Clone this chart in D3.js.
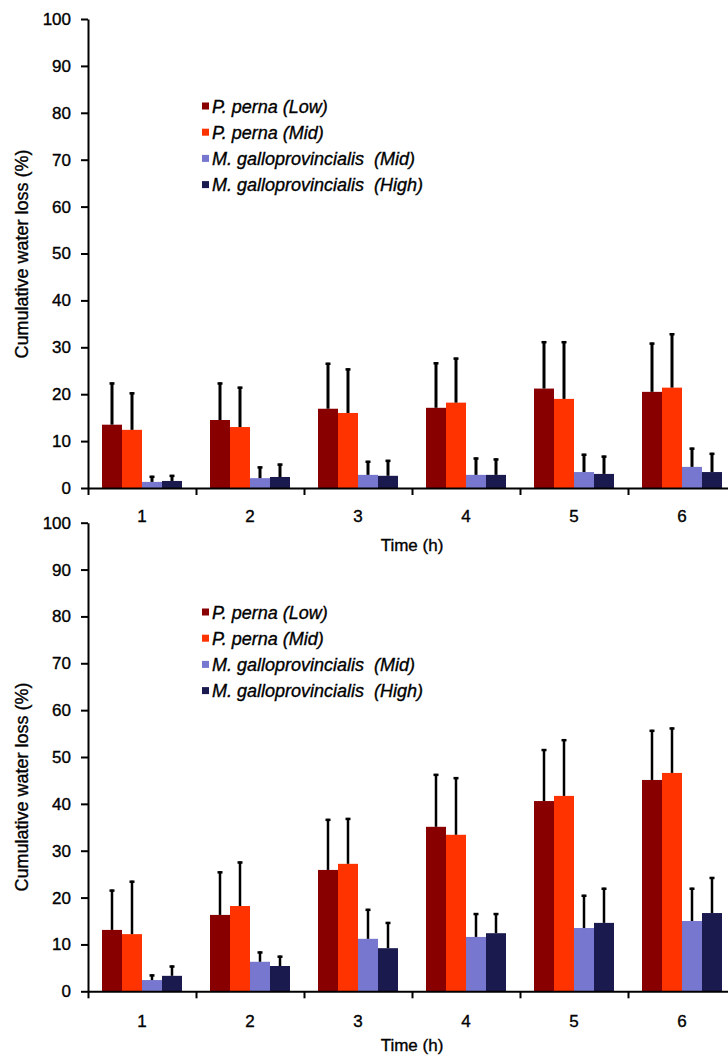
<!DOCTYPE html>
<html>
<head>
<meta charset="utf-8">
<script src="https://cdn.jsdelivr.net/npm/d3@7"></script>
<style>
  body { margin: 0; background: #fff; }
  svg { display: block; font-family: "Liberation Sans", Arial, sans-serif; }
  svg text { stroke: #000; stroke-width: 0.35px; fill: #000; }
  .axis path, .axis line { stroke: #000; stroke-width: 2px; }
  .axis text { font-size: 17px; }
</style>
</head>
<body>
<div id="chart"></div>
<script>
// categories and series
var times = ["1", "2", "3", "4", "5", "6"];
var seriesNames = ["P. perna (Low)", "P. perna (Mid)", "M. galloprovincialis  (Mid)", "M. galloprovincialis  (High)"];
var seriesColors = ["#880000", "#ff3300", "#7777d0", "#1a1a4e"];
var yTicks = [0, 10, 20, 30, 40, 50, 60, 70, 80, 90, 100];

// top panel: means and error (+SD)
var topPLow = [13.5, 14.5, 16.9, 17.1, 21.2, 20.5];
var topPLowErr = [9.0, 8.0, 9.8, 9.7, 10.1, 10.5];
var topPMid = [12.4, 13.0, 16.0, 18.2, 19.0, 21.4];
var topPMidErr = [8.0, 8.6, 9.5, 9.6, 12.3, 11.6];
var topMMid = [1.3, 2.1, 2.8, 2.8, 3.4, 4.5];
var topMMidErr = [1.3, 2.5, 3.0, 3.7, 3.9, 4.1];
var topMHigh = [1.5, 2.35, 2.6, 2.8, 3.0, 3.4];
var topMHighErr = [1.3, 2.85, 3.4, 3.5, 3.9, 4.1];

// bottom panel
var botPLow = [13.1, 16.3, 25.9, 35.1, 40.6, 45.1];
var botPLowErr = [8.6, 9.3, 10.9, 11.3, 11.1, 10.7];
var botPMid = [12.2, 18.2, 27.2, 33.4, 41.7, 46.6];
var botPMidErr = [11.4, 9.5, 9.8, 12.3, 12.1, 9.7];
var botMMid = [2.4, 6.3, 11.2, 11.6, 13.5, 15.0];
var botMMidErr = [1.2, 2.2, 6.4, 5.1, 7.1, 7.1];
var botMHigh = [3.3, 5.4, 9.2, 12.4, 14.6, 16.7];
var botMHighErr = [2.2, 2.2, 5.6, 4.3, 7.5, 7.7];

var W = 728, H = 1062;
var svg = d3.select("#chart").append("svg").attr("width", W).attr("height", H);

var x0 = 88, x1 = 736;
var x = d3.scaleBand().domain(times).range([x0, x1]).paddingInner(28 / 108).paddingOuter(14 / 108);
var xs = d3.scaleBand().domain(d3.range(seriesNames.length)).range([0, x.bandwidth()]);
var xEdge = d3.scaleLinear().domain([0, times.length]).range([x0, x1]);

function drawPanel(cfg) {
  var g = svg.append("g");
  var y = d3.scaleLinear().domain([0, 100]).range([cfg.bottom, cfg.top]);

  var rows = times.map(function(t, i) {
    return {t: t, vals: cfg.means.map(function(m, s) { return {s: s, v: m[i], e: cfg.errs[s][i]}; })};
  });

  var groups = g.selectAll(".grp").data(rows).enter().append("g")
    .attr("transform", function(d) { return "translate(" + x(d.t) + ",0)"; });

  groups.selectAll("rect").data(function(d) { return d.vals; }).enter().append("rect")
    .attr("x", function(d) { return xs(d.s); })
    .attr("width", xs.bandwidth())
    .attr("y", function(d) { return y(d.v); })
    .attr("height", function(d) { return y(0) - y(d.v); })
    .attr("fill", function(d) { return seriesColors[d.s]; });

  // error bars (upper only)
  var eb = groups.selectAll(".err").data(function(d) { return d.vals; }).enter().append("g").attr("class", "err");
  eb.append("line")
    .attr("x1", function(d) { return xs(d.s) + xs.bandwidth() / 2; })
    .attr("x2", function(d) { return xs(d.s) + xs.bandwidth() / 2; })
    .attr("y1", function(d) { return y(d.v); })
    .attr("y2", function(d) { return y(d.v + d.e); })
    .attr("stroke", "#000").attr("stroke-width", cfg.errW);
  eb.append("line")
    .attr("x1", function(d) { return xs(d.s) + xs.bandwidth() / 2 - 2.5; })
    .attr("x2", function(d) { return xs(d.s) + xs.bandwidth() / 2 + 2.5; })
    .attr("y1", function(d) { return y(d.v + d.e) + 1; })
    .attr("y2", function(d) { return y(d.v + d.e) + 1; })
    .attr("stroke", "#000").attr("stroke-width", 2.5);

  // y axis
  g.append("g").attr("class", "axis")
    .attr("transform", "translate(" + x0 + ",0)")
    .call(d3.axisLeft(y).tickValues(yTicks).tickSize(7).tickSizeOuter(0).tickPadding(10));

  // x axis: ticks at category edges, labels at centres
  g.append("g").attr("class", "axis")
    .attr("transform", "translate(0," + cfg.bottom + ")")
    .call(d3.axisBottom(xEdge).ticks(times.length).tickSize(7).tickSizeOuter(0).tickFormat(""));
  g.append("g").attr("class", "axis xlab")
    .attr("transform", "translate(0," + cfg.bottom + ")")
    .call(d3.axisBottom(x).tickSize(0).tickPadding(cfg.labPad))
    .call(function(a) { a.select(".domain").remove(); });

  g.append("text")
    .attr("x", (x0 + x1) / 2).attr("y", cfg.bottom + cfg.titleOff)
    .attr("text-anchor", "middle").attr("font-size", 17)
    .text("Time (h)");

  g.append("text")
    .attr("transform", "translate(28," + cfg.yTitleMid + ") rotate(-90)")
    .attr("text-anchor", "middle").attr("font-size", 18)
    .text("Cumulative water loss (%)");

  // legend
  var leg = g.selectAll(".leg").data(seriesNames).enter().append("g")
    .attr("transform", function(d, i) { return "translate(202," + (cfg.legTop + i * 26.2) + ")"; });
  leg.append("rect").attr("x", 0).attr("y", -3.5).attr("width", 7).attr("height", 7)
    .attr("fill", function(d, i) { return seriesColors[i]; });
  leg.append("text").attr("x", 10).attr("y", 6.5)
    .attr("font-size", 18).attr("font-style", "italic")
    .style("white-space", "pre")
    .text(function(d) { return d; });
}

drawPanel({
  top: 19, bottom: 488, errW: 3, labPad: 22, titleOff: 63, yTitleMid: 254, legTop: 106,
  means: [topPLow, topPMid, topMMid, topMHigh],
  errs: [topPLowErr, topPMidErr, topMMidErr, topMHighErr]
});
drawPanel({
  top: 522.7, bottom: 991.3, errW: 2.5, labPad: 24, titleOff: 60, yTitleMid: 787, legTop: 612,
  means: [botPLow, botPMid, botMMid, botMHigh],
  errs: [botPLowErr, botPMidErr, botMMidErr, botMHighErr]
});
</script>
</body>
</html>
